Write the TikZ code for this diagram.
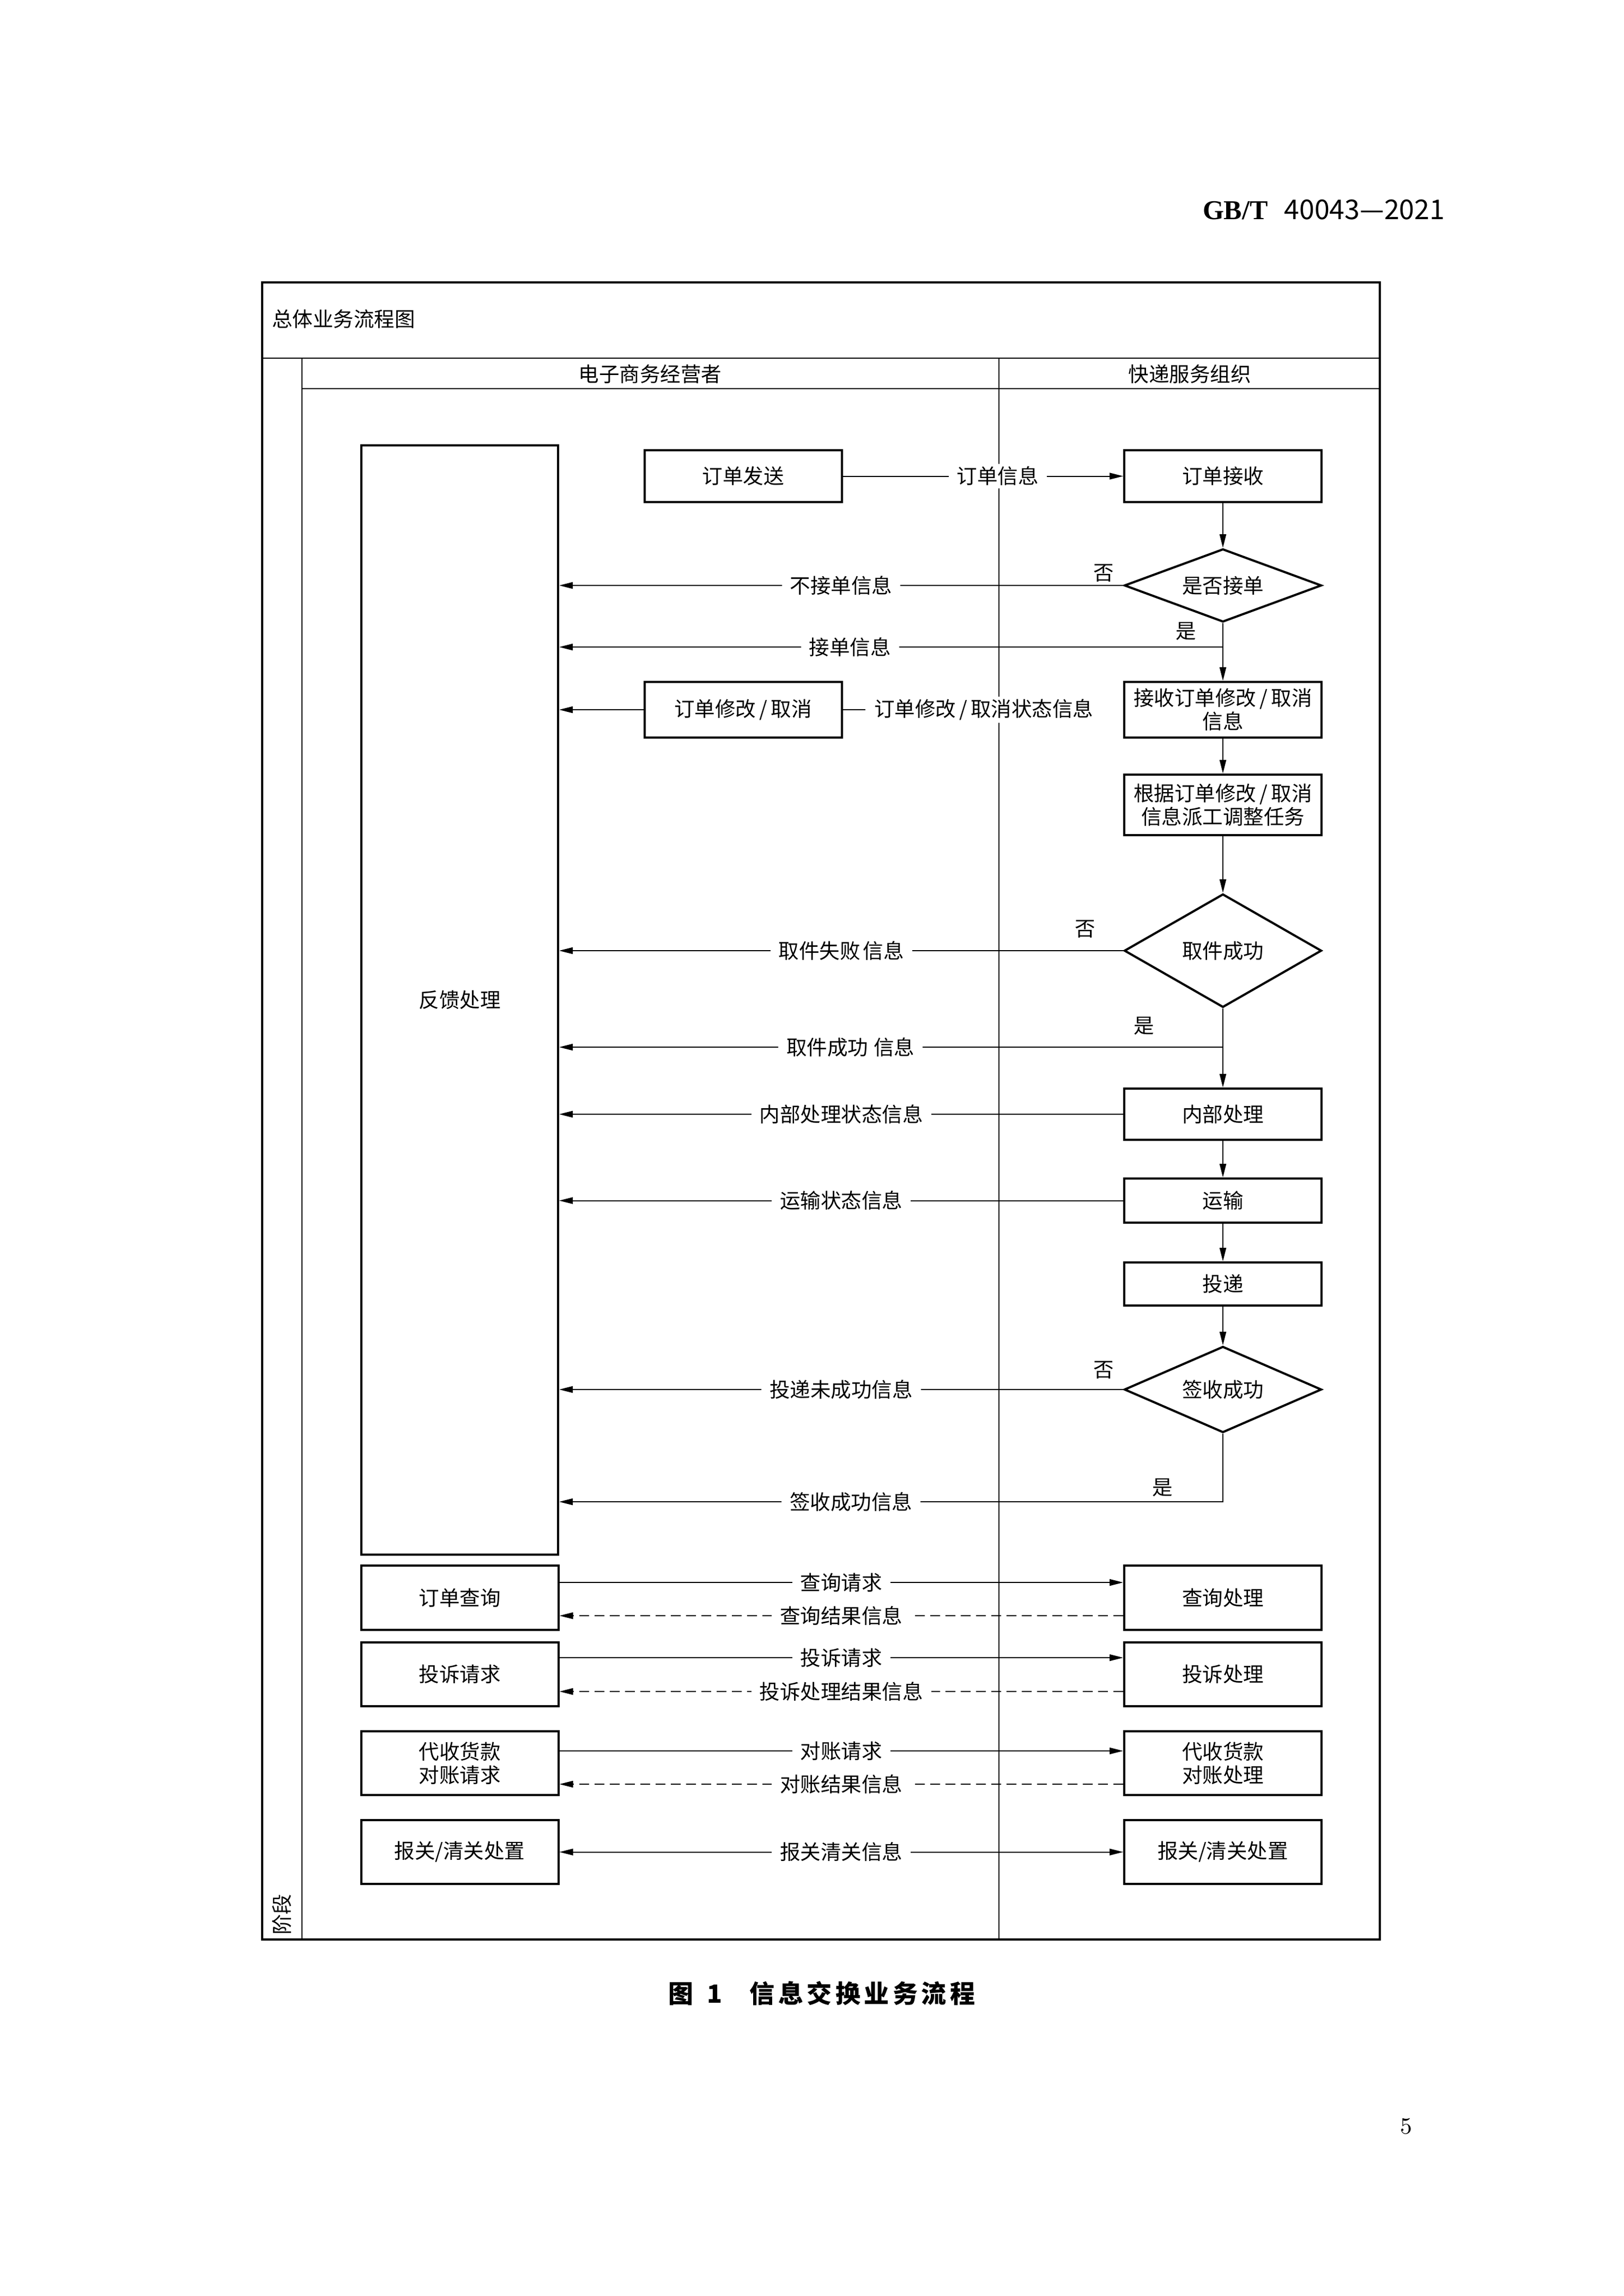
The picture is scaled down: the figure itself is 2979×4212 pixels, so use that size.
\documentclass[tikz,border=0pt]{standalone}
\usepackage{fontspec}
\usetikzlibrary{shapes.geometric,arrows.meta}

\newfontfamily\cjk{Noto Sans CJK SC}
\newfontfamily\capcjk{Noto Sans CJK SC}[LetterSpace=14]
\newfontfamily\gbserif{Liberation Serif}
\newcommand\flowfont{\cjk\fontsize{7.5}{8.6}\selectfont}

\tikzset{
    box/.style   = {draw, line width=0.8pt, minimum width=72.4pt, inner sep=1pt, align=center, font=\flowfont},
    dec/.style   = {diamond, draw, line width=0.8pt, minimum width=72.4pt, aspect=2, inner sep=0pt, font=\flowfont},
    link/.style  = {line width=0.4pt},
    flow/.style  = {link, -{Triangle[length=5pt,width=2.4pt]}},
    both/.style  = {link, {Triangle[length=5pt,width=2.4pt]}-{Triangle[length=5pt,width=2.4pt]}},
    resp/.style  = {flow, dash pattern=on 3.6pt off 2pt},
    lbl/.style   = {fill=white, inner xsep=3pt, inner ysep=1pt, font=\flowfont},
    yn/.style    = {inner sep=0pt, font=\flowfont},
}

\begin{document}
\begin{tikzpicture}[x=0.2pt, y=-0.2pt]
\useasboundingbox (0,0) rectangle (2979,4212);

% page head, caption and page number
\node[anchor=base east, inner sep=0pt] (std) at (2652,402)
    {\fontsize{10}{12}\selectfont\gbserif\bfseries GB/T\hspace{6pt}\cjk\mdseries 40043—2021};
\node[inner sep=0pt] (cap) at (1508,3657)
    {\capcjk\bfseries\fontsize{9.2}{11}\selectfont 图\hspace{5pt}1\hspace{10pt}信息交换业务流程};
\node[inner sep=0pt] (pageno) at (2580,3901) {\fontsize{8.5}{10}\selectfont 5};

% frame and lanes
\draw[line width=0.8pt] (481,518) rectangle (2532,3558);
\draw[line width=0.5pt] (481,657) -- (2532,657);
\draw[line width=0.5pt] (554,713) -- (2532,713);
\draw[line width=0.5pt] (554,657) -- (554,3558);
\draw[line width=0.3pt] (1833,657) -- (1833,3558);

\node[anchor=west, inner sep=0pt, font=\flowfont] (title) at (498,585) {总体业务流程图};
\node[inner sep=0pt, font=\flowfont] (lanea) at (1193,686) {电子商务经营者};
\node[inner sep=0pt, font=\flowfont] (laneb) at (2183,686) {快递服务组织};
\node[inner sep=0pt, font=\flowfont, rotate=90] (phase) at (517,3512) {阶段};

% e-commerce lane
\node[box, minimum width=72.2pt, minimum height=407pt] (fb) at (843.5,1834.5) {反馈处理};
\node[box, minimum height=19pt] (send) at (1363.5,873.5) {订单发送};
\node[box, minimum height=20.4pt] (mod) at (1363.5,1302) {订单修改\,/\,取消};

% express lane
\node[box, minimum height=19pt] (recv) at (2244,873.5) {订单接收};
\node[dec, minimum height=26.8pt] (acc) at (2244,1074) {是否接单};
\node[box, minimum height=20.4pt] (modrecv) at (2244,1302) {接收订单修改\,/\,取消\\信息};
\node[box, minimum height=22.2pt] (adjust) at (2244,1476.5) {根据订单修改\,/\,取消\\信息派工调整任务};
\node[dec, minimum height=41.6pt] (pick) at (2244,1744) {取件成功};
\node[box, minimum height=18.8pt] (internal) at (2244,2044) {内部处理};
\node[box, minimum height=16.2pt] (transport) at (2244,2202.5) {运输};
\node[box, minimum height=15.8pt] (deliver) at (2244,2355.5) {投递};
\node[dec, minimum height=31.6pt] (sign) at (2244,2549) {签收成功};

% request / response pairs
\node[box, minimum height=23.6pt] (query) at (843.5,2931) {订单查询};
\node[box, minimum height=23.6pt] (queryproc) at (2244,2931) {查询处理};
\node[box, minimum height=23.4pt] (compl) at (843.5,3071.5) {投诉请求};
\node[box, minimum height=23.4pt] (complproc) at (2244,3071.5) {投诉处理};
\node[box, minimum height=23.4pt] (cod) at (843.5,3234.5) {代收货款\\对账请求};
\node[box, minimum height=23.4pt] (codproc) at (2244,3234.5) {代收货款\\对账处理};
\node[box, minimum height=23.4pt] (customs) at (843.5,3397.5) {报关/清关处置};
\node[box, minimum height=23.4pt] (customsproc) at (2244,3397.5) {报关/清关处置};

% main flow down the express lane
\draw[flow] (send.east) -- (recv.west) node[lbl, pos=0.552] (sendlbl) {订单信息};
\foreach \a/\b in {recv/acc, acc/modrecv, modrecv/adjust, adjust/pick,
                   pick/internal, internal/transport, transport/deliver, deliver/sign}
    \draw[flow] (\a.south) -- (\b.north);

% feedback back to the seller
\draw[flow] (acc.west) -- (fb.east |- acc.west) node[lbl, midway] (nolbla) {不接单信息};
\node[yn] (noa) at (2025,1051) {否};
\coordinate (yesa) at (2244,1187);
\draw[flow] (yesa) -- (fb.east |- yesa) node[lbl, pos=0.562] (yeslbla) {接单信息};
\node[yn] (yesamark) at (2176,1158) {是};

\draw[flow] (mod.west) -- (fb.east |- mod.west);
\node[lbl, anchor=west] (modlbl) at (1588,1302) {订单修改\,/\,取消状态信息};
\draw[link] (mod.east) -- (modlbl.west);

\draw[flow] (pick.west) -- (fb.east |- pick.west) node[lbl, midway] (nolblb) {取件失败\hspace{1pt}信息};
\node[yn] (nob) at (1991,1704) {否};
\coordinate (yesb) at (2244,1921);
\draw[flow] (yesb) -- (fb.east |- yesb) node[lbl, pos=0.561] (yeslblb) {取件成功\hspace{2pt}信息};
\node[yn] (yesbmark) at (2099,1882) {是};

\draw[flow] (internal.west) -- (fb.east |- internal.west) node[lbl, midway] (intlbl) {内部处理状态信息};
\draw[flow] (transport.west) -- (fb.east |- transport.west) node[lbl, midway] (trlbl) {运输状态信息};

\draw[flow] (sign.west) -- (fb.east |- sign.west) node[lbl, midway] (nolblc) {投递未成功信息};
\node[yn] (noc) at (2025,2513) {否};
\coordinate (yesc) at (2244,2755);
\draw[flow] (sign.south) -- (yesc) -- (fb.east |- yesc) node[lbl, pos=0.56] (yeslblc) {签收成功信息};
\node[yn] (yescmark) at (2133,2729) {是};

% requests and results
\draw[flow] ([yshift=5.6pt]query.east) -- ([yshift=5.6pt]queryproc.west) node[lbl, midway] (qreq) {查询请求};
\draw[resp] ([yshift=-6.6pt]queryproc.west) -- ([yshift=-6.6pt]query.east) node[lbl, midway] (qres) {查询结果信息};
\draw[flow] ([yshift=6.1pt]compl.east) -- ([yshift=6.1pt]complproc.west) node[lbl, midway] (creq) {投诉请求};
\draw[resp] ([yshift=-6.3pt]complproc.west) -- ([yshift=-6.3pt]compl.east) node[lbl, midway] (cres) {投诉处理结果信息};
\draw[flow] ([yshift=4.5pt]cod.east) -- ([yshift=4.5pt]codproc.west) node[lbl, midway] (dreq) {对账请求};
\draw[resp] ([yshift=-7.7pt]codproc.west) -- ([yshift=-7.7pt]cod.east) node[lbl, midway] (dres) {对账结果信息};
\draw[both] (customs.east) -- (customsproc.west) node[lbl, midway] (custlbl) {报关清关信息};

\end{tikzpicture}
\end{document}
